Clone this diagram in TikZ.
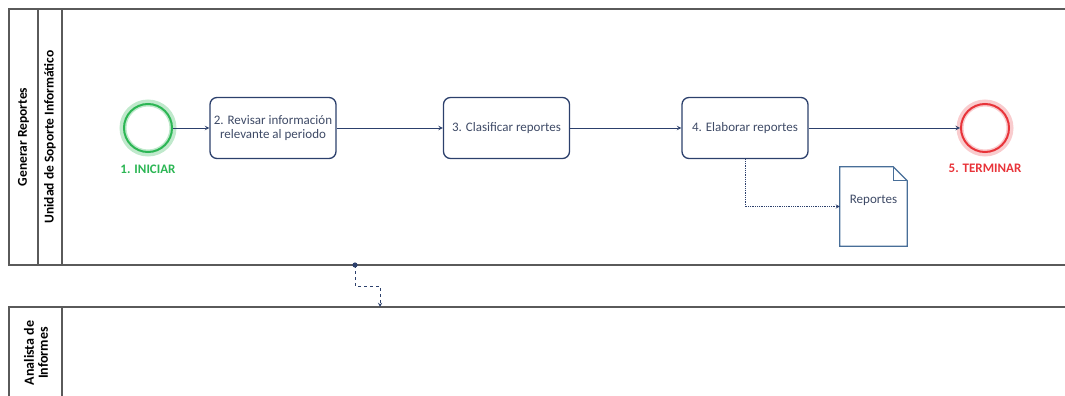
\documentclass[tikz,border=0pt]{standalone}
\usepackage{fontspec}
\setmainfont{Carlito}
\usetikzlibrary{arrows, positioning}
\definecolor{navy}{RGB}{44, 64, 108}
\definecolor{slate}{RGB}{62, 74, 102}
\definecolor{poolgray}{RGB}{90, 90, 90}
\definecolor{startgreen}{RGB}{44, 182, 84}
\definecolor{endred}{RGB}{232, 52, 58}
\definecolor{docblue}{RGB}{72, 110, 152}

\begin{document}
\begin{tikzpicture}[
        x=1pt, y=-1pt, % one unit per pixel, y downwards
        > = stealth, % arrow head style
        font=\fontsize{13}{14}\selectfont
    ]
        \tikzstyle{task}=[
            draw = navy,
            line width = 1.3pt,
            rounded corners = 7pt,
            minimum width = 126pt,
            minimum height = 61pt,
            align = center,
            text = slate,
            inner sep = 2pt
        ]
        \tikzstyle{event}=[
            circle,
            line width = 2pt,
            minimum size = 48pt
        ]
        \tikzstyle{flow}=[navy, line width=1pt]
        \tikzstyle{pool}=[draw=poolgray, line width=1.1pt]
        \tikzstyle{poollabel}=[rotate=90, font=\fontsize{13.5}{14}\selectfont\bfseries, align=center]

        \useasboundingbox (0,0) rectangle (1065,396);
        \clip (0,0) rectangle (1065,396);

        % pools and lanes
        \draw[pool] (9,9) rectangle (1080,265);
        \draw[pool] (38,9) -- (38,265);
        \draw[pool] (62,9) -- (62,265);
        \draw[pool] (9,307) rectangle (1080,410);
        \draw[pool] (62,307) -- (62,410);

        \node[poollabel] (pool) at (23.5,137) {Generar Reportes};
        \node[poollabel] (lane) at (50,137) {Unidad de Soporte Informático};
        \node[poollabel, font=\fontsize{14}{14}\selectfont\bfseries] (analista) at (36,353) {Analista de\\Informes};

        % events (with soft glow)
        \draw[startgreen!30, line width=7pt] (148,128) circle (25pt);
        \draw[endred!25, line width=7pt] (985,128) circle (25pt);
        \node[event, draw=startgreen] (start) at (148,128) {};
        \node[event, draw=endred] (end) at (985,128) {};
        \node[below=8pt of start, text=startgreen, font=\fontsize{13}{14}\selectfont\bfseries] (startlbl) {1. INICIAR};
        \node[below=8pt of end, text=endred, font=\fontsize{13}{14}\selectfont\bfseries] (endlbl) {5. TERMINAR};

        % tasks
        \node[task] (t2) at (273,128) {2. Revisar información\\relevante al periodo};
        \node[task] (t3) at (506.5,128) {3. Clasificar reportes};
        \node[task] (t4) at (745,128) {4. Elaborar reportes};

        % data object
        \node[minimum width=67pt, minimum height=79pt] (doc) at (873.5,206.5) {};
        \node[text=slate] (doclbl) at ([yshift=6pt]doc.center) {Reportes};
        \draw[docblue, line width=1.2pt]
            (doc.north west) -- ([xshift=-14pt]doc.north east)
            -- ([yshift=-14pt]doc.north east) -- (doc.south east)
            -- (doc.south west) -- cycle;
        \draw[docblue, line width=1pt]
            ([xshift=-14pt]doc.north east) -- ([xshift=-14pt, yshift=-14pt]doc.north east)
            -- ([yshift=-14pt]doc.north east);

        % sequence flows
        \path[->, flow] (start) edge (t2);
        \path[->, flow] (t2) edge (t3);
        \path[->, flow] (t3) edge (t4);
        \path[->, flow] (t4) edge (end);

        % association to the data object
        \draw[->, navy, densely dotted, line width=0.8pt] (t4.south) |- (doc.west);

        % message flow between pools
        \coordinate (msgsrc) at (355,265);
        \coordinate (msgdst) at (380,307);
        \fill[navy] (msgsrc) circle (2.6pt);
        \draw[->, navy, dashed, line width=0.9pt] (msgsrc) -- ++(0,21) -| (msgdst);
    \end{tikzpicture}
\end{document}
